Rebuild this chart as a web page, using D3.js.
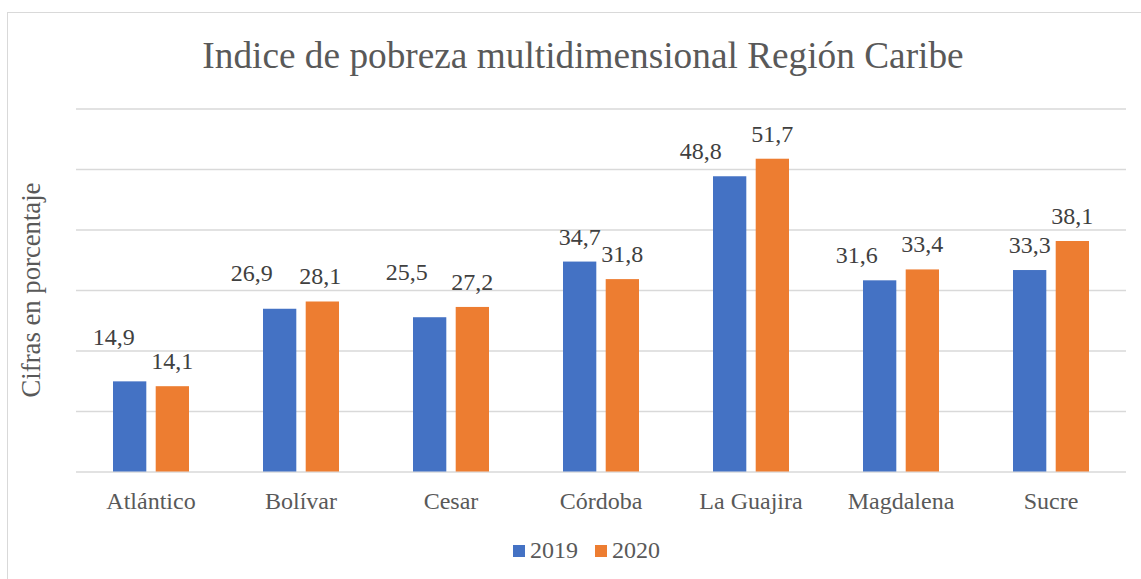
<!DOCTYPE html>
<html>
<head>
<meta charset="utf-8">
<script src="https://cdn.jsdelivr.net/npm/d3@7"></script>
<style>
  body { margin: 0; background: #fff; }
</style>
</head>
<body>
<div class="chart"></div>
<script>
// Data
const categories = ['Atlántico', 'Bolívar', 'Cesar', 'Córdoba', 'La Guajira', 'Magdalena', 'Sucre']
const seriesNames = ['2019', '2020']
const values2019 = [14.9, 26.9, 25.5, 34.7, 48.8, 31.6, 33.3]
const values2020 = [14.1, 28.1, 27.2, 31.8, 51.7, 33.4, 38.1]
const yTicks = [0, 10, 20, 30, 40, 50, 60]

// label nudges (px) that were hand placed in the original chart
const labelNudge2019 = [[-16, -19], [-28, -11], [-23, -20], [0, 0], [-29, 0], [-23, 0], [0, 0]]
const labelNudge2020 = [[0, 0], [-2, 0], [0, 0], [0, 0], [0, 0], [0, 0], [0, 0]]

const colors = ['#4472C4', '#ED7D31']
const font = 'Liberation Serif'

// Dimensions
let dimensions = {
    width: 1141,
    height: 579,
    left: 76,
    right: 1126,
    top: 108.5,
    bottom: 471.5
}

const svg = d3.select('.chart')
    .append('svg')
    .attr('width', dimensions.width)
    .attr('height', dimensions.height)
    .attr('font-family', font)

// chart border (runs off the right and bottom of the picture)
svg.append('rect')
    .attr('x', 7.5)
    .attr('y', 12.5)
    .attr('width', 1200)
    .attr('height', 700)
    .attr('fill', '#fff')
    .attr('stroke', '#D9D9D9')

// Scales
const xScale = d3.scaleBand()
    .domain(categories)
    .range([dimensions.left, dimensions.right])

const xInner = d3.scaleBand()
    .domain(seriesNames)
    .range([37, xScale.bandwidth() - 37])
    .paddingInner(0.22)

const yScale = d3.scaleLinear()
    .domain([0, 60])
    .range([dimensions.bottom, dimensions.top])

// Gridlines
const yAxis = d3.axisLeft(yScale)
    .tickValues(yTicks)
    .tickSize(-(dimensions.right - dimensions.left))
    .tickFormat('')

svg.append('g')
    .attr('transform', `translate(${dimensions.left},0)`)
    .call(yAxis)
    .call(g => g.select('.domain').remove())
    .call(g => g.selectAll('.tick line').attr('stroke', '#D9D9D9').attr('stroke-width', 1.3))

// Bars
const rows = categories.map((c, i) => ({
    category: c,
    items: [
        { series: '2019', value: values2019[i], nudge: labelNudge2019[i], color: colors[0] },
        { series: '2020', value: values2020[i], nudge: labelNudge2020[i], color: colors[1] }
    ]
}))

const groups = svg.append('g')
    .selectAll('g')
    .data(rows)
    .join('g')
    .attr('transform', d => `translate(${xScale(d.category)},0)`)

groups.selectAll('rect')
    .data(d => d.items)
    .join('rect')
    .attr('x', d => xInner(d.series))
    .attr('y', d => yScale(d.value))
    .attr('width', xInner.bandwidth())
    .attr('height', d => yScale(0) - yScale(d.value))
    .attr('fill', d => d.color)

// Data labels
groups.selectAll('text')
    .data(d => d.items)
    .join('text')
    .attr('x', d => xInner(d.series) + xInner.bandwidth() / 2 + d.nudge[0])
    .attr('y', d => yScale(d.value) - 17 + d.nudge[1])
    .attr('text-anchor', 'middle')
    .attr('font-size', 24)
    .attr('font-family', font)
    .attr('fill', '#404040')
    .text(d => d3.format('.1f')(d.value).replace('.', ','))

// Category labels
svg.append('g')
    .selectAll('text')
    .data(categories)
    .join('text')
    .attr('x', d => xScale(d) + xScale.bandwidth() / 2)
    .attr('y', dimensions.bottom + 37)
    .attr('text-anchor', 'middle')
    .attr('font-size', 24)
    .attr('font-family', font)
    .attr('fill', '#595959')
    .text(d => d)

// Title
svg.append('text')
    .attr('x', 583)
    .attr('y', 68)
    .attr('text-anchor', 'middle')
    .attr('font-size', 37.3)
    .attr('font-family', font)
    .attr('fill', '#595959')
    .text('Indice de pobreza multidimensional Región Caribe')

// Y axis title
svg.append('text')
    .attr('transform', `translate(40, ${(dimensions.top + dimensions.bottom) / 2}) rotate(-90)`)
    .attr('text-anchor', 'middle')
    .attr('font-size', 26.7)
    .attr('font-family', font)
    .attr('fill', '#595959')
    .text('Cifras en porcentaje')

// Legend
const legend = svg.append('g')
    .attr('transform', 'translate(513, 545)')

const legendItems = legend.selectAll('g')
    .data(seriesNames)
    .join('g')
    .attr('transform', (d, i) => `translate(${i * 82},0)`)

legendItems.append('rect')
    .attr('width', 12)
    .attr('height', 12)
    .attr('fill', (d, i) => colors[i])

legendItems.append('text')
    .attr('x', 17)
    .attr('y', 13)
    .attr('font-size', 24)
    .attr('font-family', font)
    .attr('fill', '#595959')
    .text(d => d)
</script>
</body>
</html>
